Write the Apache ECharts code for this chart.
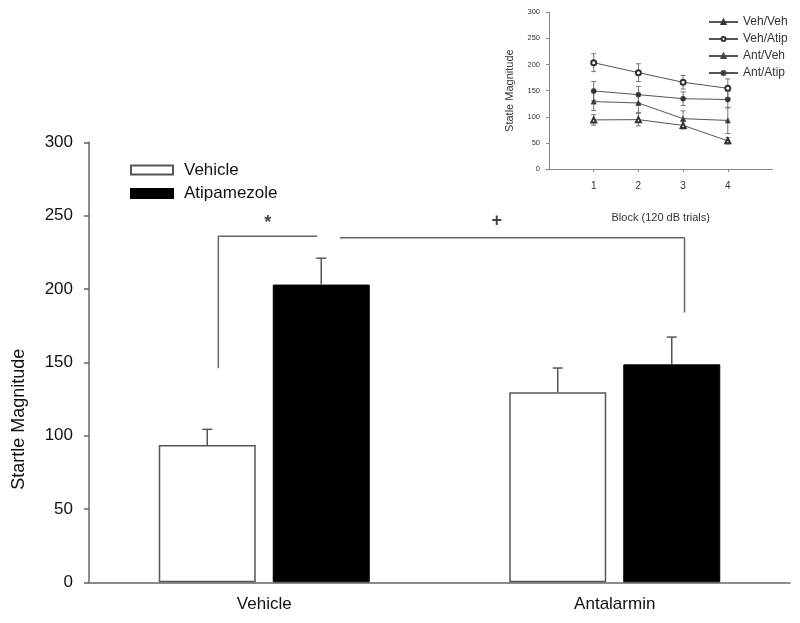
<!DOCTYPE html>
<html>
<head>
<meta charset="utf-8">
<script src="https://cdn.jsdelivr.net/npm/echarts@6/dist/echarts.min.js"></script>
<style>html,body{margin:0;padding:0;background:#fff}#c{width:800px;height:623px}</style>
</head>
<body>
<div id="c"></div>
<script>
// ---- Main chart data ----
var mainCats = ['Vehicle', 'Antalarmin'];
var vehicleVals = [93.6, 129.5];
var vehicleErr = [10.7, 16.6];
var atipVals = [203, 148.6];
var atipErr = [18, 18.6];
var mainYTicks = [0, 50, 100, 150, 200, 250, 300];

// significance brackets (data coords: x on 0..2 category span, y in magnitude)
var bracketStar = [[0.369, 146], [0.369, 236], [0.651, 236]];
var bracketPlus = [[0.716, 235], [1.699, 235], [1.699, 184]];
var sigMarks = [{ name: '*', value: [0.51, 245] }, { name: '+', value: [1.163, 246.5] }];

// ---- Inset data ----
var blocks = ['1', '2', '3', '4'];
var insetCats = [''].concat(blocks).concat(['']);
var vehVeh = [94, 94.5, 83.5, 54];
var vehVehErr = [10, 12, 7, 6];
var vehAtip = [203.5, 184.5, 166, 154.5];
var vehAtipErr = [17, 17, 13, 18];
var antVeh = [129, 126.4, 96.3, 93];
var antVehErr = [17, 18, 15, 25];
var antAtip = [149.4, 142.3, 134.6, 133];
var antAtipErr = [18, 16, 13, 16];

var FONT = 'Liberation Sans, Arial, sans-serif';
var BAR_W = 97, BAR_GAP = 17;
var OFF = (BAR_W + BAR_GAP) / 2;

function mainErr(offset) {
  return function (params, api) {
    var idx = api.value(0), v = api.value(1), e = api.value(2);
    var p0 = api.coord([idx, v]);
    var p1 = api.coord([idx, v + e]);
    var x = p0[0] + offset;
    var st = { stroke: '#555', lineWidth: 1.5 };
    return { type: 'group', children: [
      { type: 'line', shape: { x1: x, y1: p0[1], x2: x, y2: p1[1] }, style: st },
      { type: 'line', shape: { x1: x - 5, y1: p1[1], x2: x + 5, y2: p1[1] }, style: st }
    ]};
  };
}
function insetErr(params, api) {
  var idx = api.value(0), v = api.value(1), e = api.value(2);
  var pt = api.coord([idx, v + e]);
  var pb = api.coord([idx, v - e]);
  var x = pt[0];
  var st = { stroke: '#777', lineWidth: 1 };
  return { type: 'group', children: [
    { type: 'line', shape: { x1: x, y1: pt[1], x2: x, y2: pb[1] }, style: st },
    { type: 'line', shape: { x1: x - 2.5, y1: pt[1], x2: x + 2.5, y2: pt[1] }, style: st },
    { type: 'line', shape: { x1: x - 2.5, y1: pb[1], x2: x + 2.5, y2: pb[1] }, style: st }
  ]};
}
function mainErrData(vals, errs) {
  return mainCats.map(function (c, i) { return [i, vals[i], errs[i]]; });
}
function insetLine(vals) {
  return blocks.map(function (b, i) { return [b, vals[i]]; });
}
function insetErrData(vals, errs) {
  return blocks.map(function (b, i) { return [i + 1, vals[i], errs[i]]; });
}
function insetSeries(name, vals, symbol) {
  return {
    name: name, type: 'line', xAxisIndex: 2, yAxisIndex: 1,
    data: insetLine(vals), symbol: symbol, symbolSize: 5,
    lineStyle: { color: '#555', width: 1 },
    itemStyle: { color: '#333', borderColor: '#444', borderWidth: 0.8 },
    z: 5
  };
}
function insetErrSeries(vals, errs) {
  return { type: 'custom', xAxisIndex: 2, yAxisIndex: 1, data: insetErrData(vals, errs), renderItem: insetErr, z: 4, silent: true };
}

var chart = echarts.init(document.getElementById('c'), null, { renderer: 'canvas' });
chart.setOption({
  animation: false,
  backgroundColor: '#fff',
  textStyle: { fontFamily: FONT },
  grid: [
    { left: 89, right: 10, top: 142.3, bottom: 40.7, containLabel: false, outerBoundsMode: 'none' },
    { left: 549, right: 27.5, top: 12.3, bottom: 454, containLabel: false, outerBoundsMode: 'none' }
  ],
  legend: [
    {
      data: ['Vehicle', 'Atipamezole'],
      orient: 'vertical', left: 125, top: 156.5, icon: 'rect',
      itemWidth: 42, itemHeight: 9, itemGap: 6.5,
      textStyle: { fontSize: 17, color: '#111', fontFamily: FONT, padding: [0, 0, 0, 6] }
    },
    {
      data: ['Veh/Veh', 'Veh/Atip', 'Ant/Veh', 'Ant/Atip'],
      orient: 'vertical', left: 703, top: 11,
      itemWidth: 29, itemHeight: 5, itemGap: 5,
      textStyle: { fontSize: 12, color: '#333', fontFamily: FONT }
    }
  ],
  xAxis: [
    {
      type: 'category', gridIndex: 0, data: mainCats,
      axisLine: { lineStyle: { color: '#666', width: 1.5 } },
      axisTick: { alignWithLabel: true, length: 5, lineStyle: { color: '#666', width: 1.5 } },
      axisLabel: { fontSize: 17, color: '#111', margin: 14, fontFamily: FONT }
    },
    { type: 'value', gridIndex: 0, min: 0, max: 2, show: false },
    {
      type: 'category', gridIndex: 1, data: insetCats, boundaryGap: false,
      name: 'Block (120 dB trials)', nameLocation: 'middle', nameGap: 43,
      nameTextStyle: { fontSize: 11, color: '#333', fontFamily: FONT },
      axisLine: { lineStyle: { color: '#888', width: 1 } },
      axisTick: { length: 3, interval: function (i) { return i >= 1 && i <= 4; }, lineStyle: { color: '#888' } },
      axisLabel: { fontSize: 10, color: '#333', margin: 12, interval: 0, fontFamily: FONT }
    }
  ],
  yAxis: [
    {
      type: 'value', gridIndex: 0, min: 0, max: 300, interval: 50,
      name: 'Startle Magnitude', nameLocation: 'middle', nameGap: 61, nameRotate: 90,
      nameTextStyle: { fontSize: 18, color: '#111', fontFamily: FONT, padding: [0, 114, 0, 0] },
      splitLine: { show: false },
      axisLine: { show: true, lineStyle: { color: '#666', width: 1.5 } },
      axisTick: { show: true, length: 5, lineStyle: { color: '#666', width: 1.5 } },
      axisLabel: { fontSize: 17, color: '#111', margin: 16, fontFamily: FONT }
    },
    {
      type: 'value', gridIndex: 1, min: 0, max: 300, interval: 50,
      name: 'Statle Magnitude', nameLocation: 'middle', nameGap: 34, nameRotate: 90,
      nameTextStyle: { fontSize: 11, color: '#333', fontFamily: FONT },
      splitLine: { show: false },
      axisLine: { show: true, lineStyle: { color: '#888', width: 1 } },
      axisTick: { show: true, length: 3, lineStyle: { color: '#888' } },
      axisLabel: { fontSize: 7.5, color: '#333', margin: 9, fontFamily: FONT }
    }
  ],
  series: [
    {
      name: 'Vehicle', type: 'bar', xAxisIndex: 0, yAxisIndex: 0, data: vehicleVals,
      barWidth: BAR_W, barGap: (BAR_GAP / BAR_W * 100) + '%',
      itemStyle: { color: '#fff', borderColor: '#555', borderWidth: 1.5 }
    },
    {
      name: 'Atipamezole', type: 'bar', xAxisIndex: 0, yAxisIndex: 0, data: atipVals,
      barWidth: BAR_W,
      itemStyle: { color: '#000', borderColor: '#000', borderWidth: 1 }
    },
    { type: 'custom', xAxisIndex: 0, yAxisIndex: 0, data: mainErrData(vehicleVals, vehicleErr), renderItem: mainErr(-OFF), z: 3, silent: true },
    { type: 'custom', xAxisIndex: 0, yAxisIndex: 0, data: mainErrData(atipVals, atipErr), renderItem: mainErr(OFF), z: 3, silent: true },
    { type: 'line', xAxisIndex: 1, yAxisIndex: 0, data: bracketStar, symbol: 'none', lineStyle: { color: '#666', width: 1.5 }, silent: true },
    { type: 'line', xAxisIndex: 1, yAxisIndex: 0, data: bracketPlus, symbol: 'none', lineStyle: { color: '#666', width: 1.5 }, silent: true },
    {
      type: 'scatter', xAxisIndex: 1, yAxisIndex: 0, data: sigMarks, symbolSize: 1,
      itemStyle: { color: 'rgba(0,0,0,0)' },
      label: { show: true, position: 'inside', formatter: '{b}', fontSize: 18, fontWeight: 'bold', color: '#111', fontFamily: FONT }
    },
    insetErrSeries(vehVeh, vehVehErr),
    insetErrSeries(vehAtip, vehAtipErr),
    insetErrSeries(antVeh, antVehErr),
    insetErrSeries(antAtip, antAtipErr),
    insetSeries('Veh/Veh', vehVeh, 'emptyTriangle'),
    insetSeries('Veh/Atip', vehAtip, 'emptyCircle'),
    insetSeries('Ant/Veh', antVeh, 'triangle'),
    insetSeries('Ant/Atip', antAtip, 'circle')
  ]
});
</script>
</body>
</html>
